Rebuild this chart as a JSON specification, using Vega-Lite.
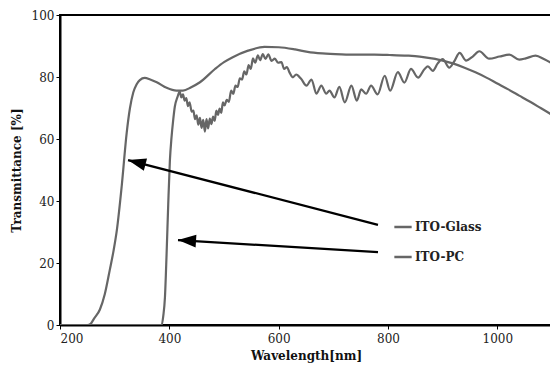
{
  "$schema": "https://vega.github.io/schema/vega-lite/v6.json",
  "width": 492,
  "height": 310,
  "autosize": {"type": "none"},
  "padding": {"left": 60, "top": 15, "right": 0, "bottom": 49},
  "background": "white",
  "config": {
    "font": "DejaVu Serif",
    "view": {"stroke": "black", "strokeWidth": 2},
    "axis": {"grid": false, "domainColor": "black", "domainWidth": 2, "tickColor": "black", "tickSize": 4, "labelFont": "DejaVu Serif", "labelFontSize": 12, "labelColor": "#222", "titleFont": "DejaVu Serif", "titleFontSize": 12, "titleFontWeight": "bold", "titleColor": "#111"}
  },
  "datasets": {
    "spectra": [
      {"series": "ITO-Glass", "wl": 200, "t": 0},
      {"series": "ITO-Glass", "wl": 250, "t": 0},
      {"series": "ITO-Glass", "wl": 256, "t": 0.4},
      {"series": "ITO-Glass", "wl": 262, "t": 2},
      {"series": "ITO-Glass", "wl": 273, "t": 5},
      {"series": "ITO-Glass", "wl": 282, "t": 10},
      {"series": "ITO-Glass", "wl": 291, "t": 17.7},
      {"series": "ITO-Glass", "wl": 298, "t": 24},
      {"series": "ITO-Glass", "wl": 304, "t": 30.6},
      {"series": "ITO-Glass", "wl": 313, "t": 45},
      {"series": "ITO-Glass", "wl": 322, "t": 62},
      {"series": "ITO-Glass", "wl": 328, "t": 70},
      {"series": "ITO-Glass", "wl": 334, "t": 75},
      {"series": "ITO-Glass", "wl": 340, "t": 77.6},
      {"series": "ITO-Glass", "wl": 346, "t": 79},
      {"series": "ITO-Glass", "wl": 355, "t": 79.7},
      {"series": "ITO-Glass", "wl": 365, "t": 79.2},
      {"series": "ITO-Glass", "wl": 377, "t": 78.3},
      {"series": "ITO-Glass", "wl": 395, "t": 76.5},
      {"series": "ITO-Glass", "wl": 413, "t": 75.6},
      {"series": "ITO-Glass", "wl": 425, "t": 75.6},
      {"series": "ITO-Glass", "wl": 440, "t": 76.7},
      {"series": "ITO-Glass", "wl": 456, "t": 78.3},
      {"series": "ITO-Glass", "wl": 483, "t": 82.5},
      {"series": "ITO-Glass", "wl": 500, "t": 84.8},
      {"series": "ITO-Glass", "wl": 516, "t": 86.4},
      {"series": "ITO-Glass", "wl": 544, "t": 88.5},
      {"series": "ITO-Glass", "wl": 574, "t": 89.7},
      {"series": "ITO-Glass", "wl": 600, "t": 89.6},
      {"series": "ITO-Glass", "wl": 630, "t": 88.9},
      {"series": "ITO-Glass", "wl": 653, "t": 88.1},
      {"series": "ITO-Glass", "wl": 680, "t": 87.6},
      {"series": "ITO-Glass", "wl": 715, "t": 87.3},
      {"series": "ITO-Glass", "wl": 742, "t": 87.2},
      {"series": "ITO-Glass", "wl": 775, "t": 87.2},
      {"series": "ITO-Glass", "wl": 803, "t": 87.1},
      {"series": "ITO-Glass", "wl": 835, "t": 86.9},
      {"series": "ITO-Glass", "wl": 858, "t": 86.6},
      {"series": "ITO-Glass", "wl": 880, "t": 86},
      {"series": "ITO-Glass", "wl": 900, "t": 85.3},
      {"series": "ITO-Glass", "wl": 920, "t": 84.3},
      {"series": "ITO-Glass", "wl": 940, "t": 83},
      {"series": "ITO-Glass", "wl": 960, "t": 81.5},
      {"series": "ITO-Glass", "wl": 980, "t": 79.8},
      {"series": "ITO-Glass", "wl": 1000, "t": 77.9},
      {"series": "ITO-Glass", "wl": 1020, "t": 76},
      {"series": "ITO-Glass", "wl": 1040, "t": 74},
      {"series": "ITO-Glass", "wl": 1060, "t": 72},
      {"series": "ITO-Glass", "wl": 1080, "t": 69.9},
      {"series": "ITO-Glass", "wl": 1100, "t": 67.8},
      {"series": "ITO-PC", "wl": 200, "t": 0},
      {"series": "ITO-PC", "wl": 386, "t": 0},
      {"series": "ITO-PC", "wl": 389, "t": 3},
      {"series": "ITO-PC", "wl": 392, "t": 9},
      {"series": "ITO-PC", "wl": 395, "t": 23},
      {"series": "ITO-PC", "wl": 398, "t": 39},
      {"series": "ITO-PC", "wl": 401, "t": 53},
      {"series": "ITO-PC", "wl": 404, "t": 60.5},
      {"series": "ITO-PC", "wl": 407, "t": 66},
      {"series": "ITO-PC", "wl": 410, "t": 70.4},
      {"series": "ITO-PC", "wl": 415, "t": 73.6},
      {"series": "ITO-PC", "wl": 419, "t": 75.3},
      {"series": "ITO-PC", "wl": 422, "t": 73.4},
      {"series": "ITO-PC", "wl": 425, "t": 74.4},
      {"series": "ITO-PC", "wl": 428, "t": 72.4},
      {"series": "ITO-PC", "wl": 431, "t": 73.2},
      {"series": "ITO-PC", "wl": 434, "t": 70.6},
      {"series": "ITO-PC", "wl": 437, "t": 71.8},
      {"series": "ITO-PC", "wl": 441, "t": 68.8},
      {"series": "ITO-PC", "wl": 444, "t": 69.2},
      {"series": "ITO-PC", "wl": 447, "t": 66.4},
      {"series": "ITO-PC", "wl": 450, "t": 67.6},
      {"series": "ITO-PC", "wl": 453, "t": 64.6},
      {"series": "ITO-PC", "wl": 456, "t": 66.8},
      {"series": "ITO-PC", "wl": 459, "t": 63.6},
      {"series": "ITO-PC", "wl": 462, "t": 66.2},
      {"series": "ITO-PC", "wl": 465, "t": 62.4},
      {"series": "ITO-PC", "wl": 468, "t": 66.4},
      {"series": "ITO-PC", "wl": 471, "t": 63.4},
      {"series": "ITO-PC", "wl": 474, "t": 66.6},
      {"series": "ITO-PC", "wl": 477, "t": 64.8},
      {"series": "ITO-PC", "wl": 480, "t": 67.2},
      {"series": "ITO-PC", "wl": 483, "t": 65.8},
      {"series": "ITO-PC", "wl": 486, "t": 69.2},
      {"series": "ITO-PC", "wl": 489, "t": 67.8},
      {"series": "ITO-PC", "wl": 492, "t": 69.8},
      {"series": "ITO-PC", "wl": 495, "t": 68.4},
      {"series": "ITO-PC", "wl": 498, "t": 71.8},
      {"series": "ITO-PC", "wl": 501, "t": 70.8},
      {"series": "ITO-PC", "wl": 505, "t": 72.6},
      {"series": "ITO-PC", "wl": 509, "t": 72},
      {"series": "ITO-PC", "wl": 513, "t": 75.6},
      {"series": "ITO-PC", "wl": 517, "t": 74.6},
      {"series": "ITO-PC", "wl": 521, "t": 77.2},
      {"series": "ITO-PC", "wl": 525, "t": 76.8},
      {"series": "ITO-PC", "wl": 529, "t": 79.6},
      {"series": "ITO-PC", "wl": 533, "t": 79.2},
      {"series": "ITO-PC", "wl": 537, "t": 81.8},
      {"series": "ITO-PC", "wl": 541, "t": 80.8},
      {"series": "ITO-PC", "wl": 545, "t": 83.8},
      {"series": "ITO-PC", "wl": 549, "t": 82.6},
      {"series": "ITO-PC", "wl": 553, "t": 86},
      {"series": "ITO-PC", "wl": 557, "t": 84.6},
      {"series": "ITO-PC", "wl": 562, "t": 87},
      {"series": "ITO-PC", "wl": 566, "t": 85.4},
      {"series": "ITO-PC", "wl": 571, "t": 87.4},
      {"series": "ITO-PC", "wl": 576, "t": 85.8},
      {"series": "ITO-PC", "wl": 581, "t": 87.3},
      {"series": "ITO-PC", "wl": 587, "t": 85.2},
      {"series": "ITO-PC", "wl": 593, "t": 85.9},
      {"series": "ITO-PC", "wl": 599, "t": 84.6},
      {"series": "ITO-PC", "wl": 605, "t": 84.8},
      {"series": "ITO-PC", "wl": 610, "t": 82.6},
      {"series": "ITO-PC", "wl": 615, "t": 83.2},
      {"series": "ITO-PC", "wl": 620, "t": 81.4},
      {"series": "ITO-PC", "wl": 626, "t": 79.9},
      {"series": "ITO-PC", "wl": 632, "t": 80.8},
      {"series": "ITO-PC", "wl": 641, "t": 79.4},
      {"series": "ITO-PC", "wl": 651, "t": 77.2},
      {"series": "ITO-PC", "wl": 660, "t": 79.2},
      {"series": "ITO-PC", "wl": 669, "t": 74.6},
      {"series": "ITO-PC", "wl": 678, "t": 77.2},
      {"series": "ITO-PC", "wl": 687, "t": 74.6},
      {"series": "ITO-PC", "wl": 693, "t": 75.6},
      {"series": "ITO-PC", "wl": 702, "t": 73.4},
      {"series": "ITO-PC", "wl": 711, "t": 76.8},
      {"series": "ITO-PC", "wl": 721, "t": 71.8},
      {"series": "ITO-PC", "wl": 733, "t": 77.2},
      {"series": "ITO-PC", "wl": 743, "t": 72.4},
      {"series": "ITO-PC", "wl": 751, "t": 76},
      {"series": "ITO-PC", "wl": 760, "t": 74.6},
      {"series": "ITO-PC", "wl": 769, "t": 77.2},
      {"series": "ITO-PC", "wl": 781, "t": 74.4},
      {"series": "ITO-PC", "wl": 794, "t": 80.4},
      {"series": "ITO-PC", "wl": 804, "t": 75.6},
      {"series": "ITO-PC", "wl": 818, "t": 81.6},
      {"series": "ITO-PC", "wl": 830, "t": 78.2},
      {"series": "ITO-PC", "wl": 842, "t": 82.6},
      {"series": "ITO-PC", "wl": 855, "t": 79.8},
      {"series": "ITO-PC", "wl": 867, "t": 82.6},
      {"series": "ITO-PC", "wl": 873, "t": 83.4},
      {"series": "ITO-PC", "wl": 882, "t": 82},
      {"series": "ITO-PC", "wl": 891, "t": 84.4},
      {"series": "ITO-PC", "wl": 900, "t": 85.8},
      {"series": "ITO-PC", "wl": 912, "t": 83},
      {"series": "ITO-PC", "wl": 921, "t": 85},
      {"series": "ITO-PC", "wl": 931, "t": 87.8},
      {"series": "ITO-PC", "wl": 943, "t": 85.3},
      {"series": "ITO-PC", "wl": 955, "t": 86.6},
      {"series": "ITO-PC", "wl": 967, "t": 88.3},
      {"series": "ITO-PC", "wl": 985, "t": 85.9},
      {"series": "ITO-PC", "wl": 1004, "t": 86.6},
      {"series": "ITO-PC", "wl": 1022, "t": 87.2},
      {"series": "ITO-PC", "wl": 1040, "t": 85.6},
      {"series": "ITO-PC", "wl": 1052, "t": 86},
      {"series": "ITO-PC", "wl": 1070, "t": 86.9},
      {"series": "ITO-PC", "wl": 1086, "t": 85.7},
      {"series": "ITO-PC", "wl": 1100, "t": 84.4}
    ],
    "arrows": [
      {"id": "glass", "x": 781.7, "y": 32.3, "x2": 324.4, "y2": 53.2},
      {"id": "pc", "x": 781.7, "y": 23.5, "x2": 415.9, "y2": 27.4}
    ]
  },
  "layer": [
    {
      "data": {"name": "spectra"},
      "mark": {"type": "line", "strokeWidth": 2.2, "interpolate": "monotone", "clip": true},
      "encoding": {
        "x": {"field": "wl", "type": "quantitative", "scale": {"domain": [200, 1100], "nice": false}, "axis": {"values": [200, 400, 600, 800, 1000], "format": "d", "title": "Wavelength[nm]", "labelPadding": 4, "titlePadding": 6}},
        "y": {"field": "t", "type": "quantitative", "scale": {"domain": [0, 100], "nice": false}, "axis": {"values": [0, 20, 40, 60, 80, 100], "title": "Transmittance [%]", "titlePadding": 8}},
        "color": {
          "field": "series", "type": "nominal",
          "scale": {"domain": ["ITO-Glass", "ITO-PC"], "range": ["#666666", "#666666"]},
          "legend": {"title": null, "orient": "none", "legendX": 333, "legendY": 202, "symbolType": "stroke", "symbolStrokeWidth": 2.5, "symbolSize": 300, "labelFont": "DejaVu Serif", "labelFontSize": 12, "labelFontWeight": "bold", "labelColor": "#222", "rowPadding": 14, "labelOffset": 2}
        }
      }
    },
    {
      "data": {"name": "arrows"},
      "mark": {"type": "rule", "color": "black", "strokeWidth": 2.2},
      "encoding": {
        "x": {"field": "x", "type": "quantitative"},
        "y": {"field": "y", "type": "quantitative"},
        "x2": {"field": "x2"},
        "y2": {"field": "y2"}
      }
    },
    {
      "data": {"name": "arrows"},
      "transform": [{"filter": "datum.id === 'glass'"}],
      "mark": {"type": "point", "shape": "M0,0 L0.7,2 L-0.7,2 Z", "filled": true, "color": "black", "opacity": 1, "size": 324, "angle": 284.6},
      "encoding": {
        "x": {"field": "x2", "type": "quantitative"},
        "y": {"field": "y2", "type": "quantitative"}
      }
    },
    {
      "data": {"name": "arrows"},
      "transform": [{"filter": "datum.id === 'pc'"}],
      "mark": {"type": "point", "shape": "M0,0 L0.7,2 L-0.7,2 Z", "filled": true, "color": "black", "opacity": 1, "size": 324, "angle": 273.4},
      "encoding": {
        "x": {"field": "x2", "type": "quantitative"},
        "y": {"field": "y2", "type": "quantitative"}
      }
    }
  ]
}
